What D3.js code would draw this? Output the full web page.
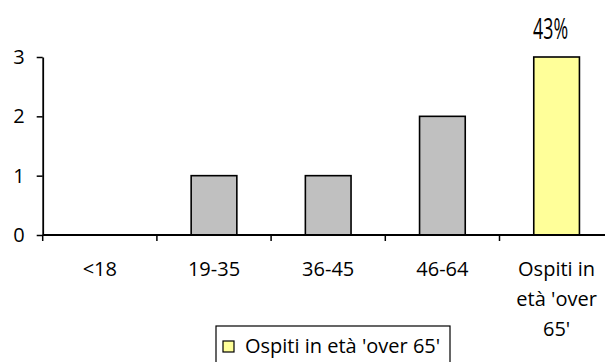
<!DOCTYPE html>
<html>
<head>
<meta charset="utf-8">
<script src="https://cdn.jsdelivr.net/npm/d3@7"></script>
<style>
  html, body { margin: 0; padding: 0; background: #fff; }
  svg { display: block; }
  text { font-family: "Open Sans", sans-serif; fill: #000; }
</style>
</head>
<body>
<svg id="chart" width="605" height="362"></svg>
<script>
// Age groups of guests and how many guests fall in each
const categories = ["<18", "19-35", "36-45", "46-64", "Ospiti in età 'over 65'"];
const categoryLines = [["<18"], ["19-35"], ["36-45"], ["46-64"], ["Ospiti in", "età 'over", "65'"]];
const values = [0, 1, 1, 2, 3];
const yTicks = [0, 1, 2, 3];
const highlightIndex = 4;
const legendLabel = "Ospiti in età 'over 65'";

const total = d3.sum(values);
const highlightShare = Math.round(values[highlightIndex] / total * 100) + "%";

const svg = d3.select("#chart");
const plot = { left: 42.7, right: 613.7, top: 57, bottom: 235 };

const x = d3.scaleBand()
  .domain(categories)
  .range([plot.left, plot.right])
  .paddingInner(0.6)
  .paddingOuter(0.3);

const y = d3.scaleLinear()
  .domain([0, 3])
  .range([plot.bottom, plot.top]);

// Bars
svg.append("g")
  .selectAll("rect")
  .data(values)
  .join("rect")
  .attr("x", (d, i) => x(categories[i]))
  .attr("y", d => y(d))
  .attr("width", x.bandwidth())
  .attr("height", d => y(0) - y(d))
  .attr("fill", (d, i) => i === highlightIndex ? "#FFFF99" : "#C0C0C0")
  .attr("stroke", "#000")
  .attr("stroke-width", 1.6)
  .style("display", d => d > 0 ? null : "none");

// Y axis
const yAxis = svg.append("g")
  .attr("transform", `translate(${plot.left},0)`)
  .call(d3.axisLeft(y).tickValues(yTicks).tickFormat(d3.format("d")).tickSize(6).tickPadding(12).tickSizeOuter(0));
yAxis.select(".domain").attr("stroke", "#000").attr("stroke-width", 1.8);
yAxis.selectAll(".tick line").attr("stroke", "#000").attr("stroke-width", 1.5);
yAxis.selectAll(".tick text")
  .attr("font-family", "Open Sans, sans-serif")
  .attr("font-size", 20)
  .attr("fill", "#000");

// X axis: tick marks on category boundaries
const step = x.step();
const boundaries = d3.range(categories.length + 1).map(i => plot.left + i * step);
svg.append("line")
  .attr("x1", plot.left).attr("x2", plot.right)
  .attr("y1", y(0)).attr("y2", y(0))
  .attr("stroke", "#000").attr("stroke-width", 1.8);
svg.append("g")
  .selectAll("line")
  .data(boundaries)
  .join("line")
  .attr("x1", d => d).attr("x2", d => d)
  .attr("y1", y(0)).attr("y2", y(0) + 6)
  .attr("stroke", "#000").attr("stroke-width", 1.5);

// Category labels, wrapped onto lines
const xLabels = svg.append("g")
  .selectAll("text")
  .data(categories)
  .join("text")
  .attr("text-anchor", "middle")
  .attr("font-size", 20)
  .attr("x", d => x(d) + x.bandwidth() / 2)
  .attr("y", 276);
xLabels.selectAll("tspan")
  .data((d, i) => categoryLines[i].map(t => ({ t, cx: x(d) + x.bandwidth() / 2 })))
  .join("tspan")
  .attr("x", d => d.cx)
  .attr("dy", (d, i) => i === 0 ? 0 : 30)
  .text(d => d.t);

// Share label above the highlighted bar
svg.append("text")
  .attr("x", x(categories[highlightIndex]) + x.bandwidth() / 2 - 6)
  .attr("y", y(values[highlightIndex]) - 18)
  .attr("text-anchor", "middle")
  .attr("font-family", "Liberation Sans, Arial, sans-serif")
  .attr("font-size", 30)
  .attr("textLength", 35)
  .attr("lengthAdjust", "spacingAndGlyphs")
  .text(highlightShare);

// Legend
const legend = svg.append("g").attr("transform", "translate(216,326)");
legend.append("rect")
  .attr("x", 0).attr("y", 0)
  .attr("width", 234).attr("height", 50)
  .attr("fill", "#fff").attr("stroke", "#000").attr("stroke-width", 1.2);
legend.append("rect")
  .attr("x", 7).attr("y", 15)
  .attr("width", 11).attr("height", 11)
  .attr("fill", "#FFFF99").attr("stroke", "#000").attr("stroke-width", 1.2);
legend.append("text")
  .attr("x", 29).attr("y", 27)
  .attr("font-size", 20)
  .text(legendLabel);
</script>
</body>
</html>
